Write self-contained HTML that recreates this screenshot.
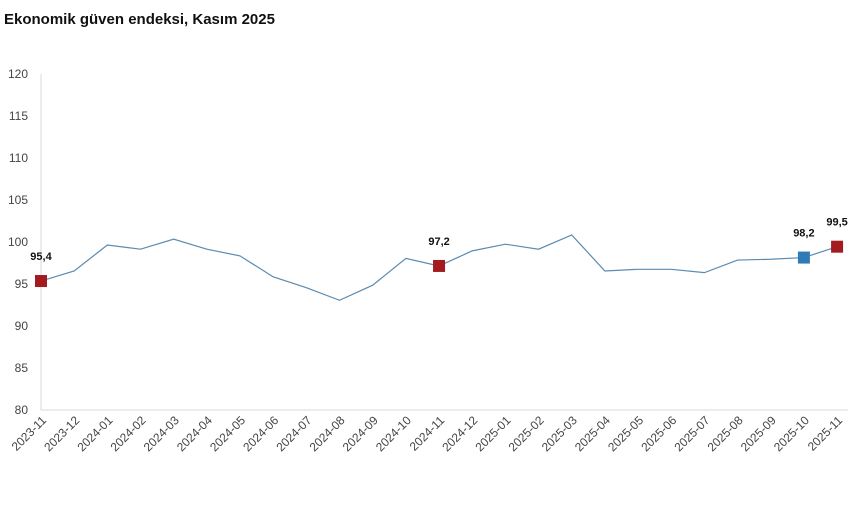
<!DOCTYPE html>
<html><head><meta charset="utf-8"><style>
body{margin:0;background:#fff;width:860px;height:504px;overflow:hidden;font-family:"Liberation Sans",sans-serif}
</style></head><body>
<svg width="860" height="504" xmlns="http://www.w3.org/2000/svg" font-family="Liberation Sans, sans-serif">
<text x="4" y="24" font-size="15" font-weight="bold" fill="#111">Ekonomik güven endeksi, Kasım 2025</text>
<line x1="41" y1="74" x2="41" y2="410" stroke="#d9d9d9"/>
<line x1="41" y1="410" x2="848" y2="410" stroke="#d9d9d9"/>
<g font-size="12" fill="#444" text-anchor="end">
<text x="28" y="78">120</text><text x="28" y="120">115</text><text x="28" y="162">110</text><text x="28" y="204">105</text><text x="28" y="246">100</text><text x="28" y="288">95</text><text x="28" y="330">90</text><text x="28" y="372">85</text><text x="28" y="414">80</text>
</g>
<g id="lab" font-size="12" fill="#444" text-anchor="end"></g>
<polyline id="ln" fill="none" stroke="#5a8bb0" stroke-width="1.2"/>
<g id="mk"></g>
</svg>
<script>
const v=[95.4,96.6,99.7,99.2,100.4,99.2,98.4,95.9,94.6,93.1,94.9,98.1,97.2,99.0,99.8,99.2,100.9,96.6,96.8,96.8,96.4,97.9,98.0,98.2,99.5];
const ns="http://www.w3.org/2000/svg";
const X=i=>41+i*33.17, Y=x=>410-(x-80)*8.375;
document.getElementById('ln').setAttribute('points',v.map((x,i)=>X(i)+','+Y(x)).join(' '));
const lab=document.getElementById('lab');
for(let i=0;i<25;i++){let y=2023,m=11+i;while(m>12){m-=12;y++;}
const t=document.createElementNS(ns,'text');t.setAttribute('transform',`translate(${X(i)+6},${421}) rotate(-45)`);t.textContent=y+'-'+String(m).padStart(2,'0');lab.appendChild(t);}
const mk=document.getElementById('mk');
[[0,'#a31a1f','95,4'],[12,'#a31a1f','97,2'],[23,'#2e7bb8','98,2'],[24,'#a31a1f','99,5']].forEach(([i,c,s])=>{
const r=document.createElementNS(ns,'rect');r.setAttribute('x',X(i)-6);r.setAttribute('y',Y(v[i])-6);r.setAttribute('width',12);r.setAttribute('height',12);r.setAttribute('fill',c);mk.appendChild(r);
const t=document.createElementNS(ns,'text');t.setAttribute('x',X(i));t.setAttribute('y',Y(v[i])-21);t.setAttribute('font-size','11');t.setAttribute('font-weight','bold');t.setAttribute('text-anchor','middle');t.setAttribute('fill','#111');t.textContent=s;mk.appendChild(t);});
</script>
</body></html>
